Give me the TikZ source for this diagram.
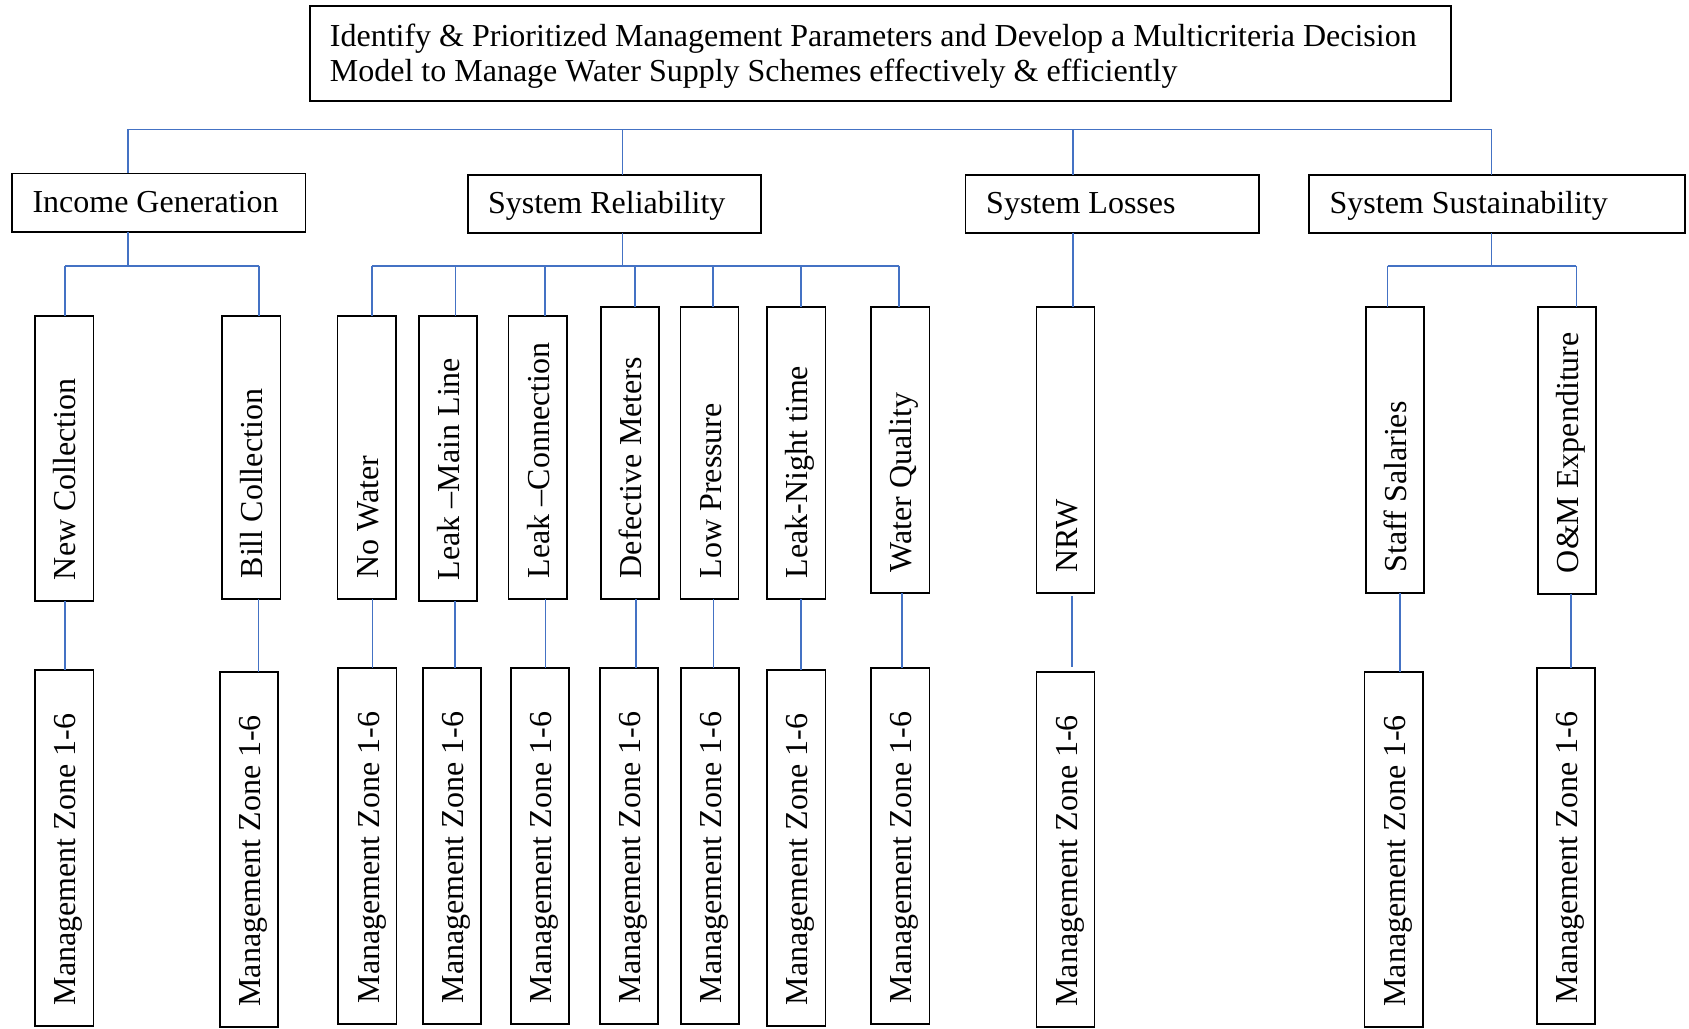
\documentclass[tikz,border=0pt]{standalone}
\usepackage{fontspec}
\setmainfont{Liberation Serif}
\definecolor{conncol}{RGB}{68,114,196}
\begin{document}
\begin{tikzpicture}[x=1pt,y=-1pt,
  box/.style={draw=black,line width=1.7pt,inner sep=0pt,outer sep=0pt,fill=white},
  hbx/.style={box,minimum height=58.3pt},
  vbx/.style={box,minimum width=58.2pt},
  htext/.style={anchor=base west,inner sep=0pt,font=\fontsize{32}{35}\selectfont},
  vtext/.style={htext,rotate=90},
  conn/.style={draw=conncol,line width=1.6pt}]
\useasboundingbox[fill=white] (0,0) rectangle (1689,1028);

% ---- top box
\node[box,minimum width=1141pt,minimum height=95pt] (top) at (880.5,53.5) {};
\node[htext] (top-t1) at ([xshift=19.7pt,yshift=-40.7pt]top.north west) {Identify \& Prioritized Management Parameters and Develop a Multicriteria Decision};
\node[htext] (top-t2) at ([xshift=19.7pt,yshift=-75.7pt]top.north west) {Model to Manage Water Supply Schemes effectively \& efficiently};

% ---- second level
\node[hbx,minimum width=293.6pt] (ig) at (158.7,202.5) {};
\node[hbx,minimum width=293.1pt] (sr) at (614.25,203.85) {};
\node[hbx,minimum width=293.3pt] (sl) at (1112.25,203.85) {};
\node[hbx,minimum width=376pt]   (ss) at (1497,203.85) {};
\node[htext] (ig-t) at ([xshift=20.4pt,yshift=19.2pt]ig.south west) {Income Generation};
\node[htext] (sr-t) at ([xshift=20.2pt,yshift=19.2pt]sr.south west) {System Reliability};
\node[htext] (sl-t) at ([xshift=20.4pt,yshift=19.2pt]sl.south west) {System Losses};
\node[htext] (ss-t) at ([xshift=20.4pt,yshift=19.2pt]ss.south west) {System Sustainability};

% ---- third level (parameters)
\node[vbx,minimum height=285pt]   (nc)  at (64.3,458.5) {};
\node[vbx,minimum height=283.3pt] (bc)  at (251.25,457.65) {};
\node[vbx,minimum height=283.3pt] (nw)  at (366.6,457.65) {};
\node[vbx,minimum height=285pt]   (lml) at (447.9,458.5) {};
\node[vbx,minimum height=283.3pt] (lc)  at (537.7,457.65) {};
\node[vbx,minimum height=292pt]   (dm)  at (629.8,453.3) {};
\node[vbx,minimum height=292pt]   (lp)  at (709.5,453.3) {};
\node[vbx,minimum height=292pt]   (lnt) at (796.25,453.3) {};
\node[vbx,minimum height=286pt]   (wq)  at (900.35,450.3) {};
\node[vbx,minimum height=286pt]   (nrw) at (1065.5,450.3) {};
\node[vbx,minimum height=286pt]   (st)  at (1394.8,450.3) {};
\node[vbx,minimum height=286.7pt] (om)  at (1567,450.65) {};

\foreach \n/\t in {nc/New Collection, bc/Bill Collection, nw/No Water,
  lml/Leak –Main Line, lc/Leak –Connection, dm/Defective Meters,
  lp/Low Pressure, lnt/Leak-Night time, wq/Water Quality, nrw/NRW,
  st/Staff Salaries, om/O\&M Expenditure}
  \node[vtext] (\n-t) at ([xshift=-17.5pt,yshift=20.8pt]\n.south east) {\t};

% ---- fourth level (management zones)
\node[vbx,minimum height=356pt]   (nc-z)  at (64.3,848) {};
\node[vbx,minimum height=355.3pt] (bc-z)  at (249.1,849.65) {};
\node[vbx,minimum height=355.7pt] (nw-z)  at (367.4,846.15) {};
\node[vbx,minimum height=355.7pt] (lml-z) at (451.8,846.15) {};
\node[vbx,minimum height=355.7pt] (lc-z)  at (540,846.15) {};
\node[vbx,minimum height=355.7pt] (dm-z)  at (629.1,846.15) {};
\node[vbx,minimum height=355.7pt] (lp-z)  at (710.15,846.15) {};
\node[vbx,minimum height=356pt]   (lnt-z) at (796.25,848) {};
\node[vbx,minimum height=355.7pt] (wq-z)  at (900.35,846.15) {};
\node[vbx,minimum height=355.3pt] (nrw-z) at (1065.5,849.65) {};
\node[vbx,minimum height=355.3pt] (st-z)  at (1393.7,849.65) {};
\node[vbx,minimum height=355.7pt] (om-z)  at (1566,846.15) {};

\foreach \n in {nc,bc,nw,lml,lc,dm,lp,lnt,wq,nrw,st,om}
  \node[vtext] (\n-zt) at ([xshift=-17.5pt,yshift=20.5pt]\n-z.south east) {Management Zone 1-6};

% ---- connectors: top bus
\coordinate (j-ig) at (127.7,129.3);
\coordinate (j-sr) at (622.3,129.3);
\coordinate (j-sl) at (1072.7,129.3);
\coordinate (j-ss) at (1491.4,129.3);
\draw[conn] (j-ig) -- (j-ss);
\foreach \n in {ig,sr,sl,ss}
  \draw[conn] (j-\n) -- (j-\n |- \n.north);

% ---- income generation branch
\coordinate (k-ig) at (127.7,265.7);
\coordinate (k-nc) at (65.2,265.7);
\coordinate (k-bc) at (259.0,265.7);
\draw[conn] (k-ig |- ig.south) -- (k-ig);
\draw[conn] (k-nc) -- (k-bc);
\foreach \n in {nc,bc}
  \draw[conn] (k-\n) -- (k-\n |- \n.north);

% ---- system reliability branch
\coordinate (k-sr)  at (622.3,265.7);
\coordinate (k-nw)  at (371.8,265.7);
\coordinate (k-lml) at (455.3,265.7);
\coordinate (k-lc)  at (544.7,265.7);
\coordinate (k-dm)  at (634.7,265.7);
\coordinate (k-lp)  at (712.8,265.7);
\coordinate (k-lnt) at (801.2,265.7);
\coordinate (k-wq)  at (898.8,265.7);
\draw[conn] (k-sr |- sr.south) -- (k-sr);
\draw[conn] (k-nw) -- (k-wq);
\foreach \n in {nw,lml,lc,dm,lp,lnt,wq}
  \draw[conn] (k-\n) -- (k-\n |- \n.north);

% ---- system losses branch
\coordinate (k-sl) at (1072.7,265.7);
\draw[conn] (k-sl |- sl.south) -- (k-sl |- nrw.north);

% ---- system sustainability branch
\coordinate (k-ss) at (1491.4,265.7);
\coordinate (k-st) at (1387.5,265.7);
\coordinate (k-om) at (1576.4,265.7);
\draw[conn] (k-ss |- ss.south) -- (k-ss);
\draw[conn] (k-st) -- (k-om);
\foreach \n in {st,om}
  \draw[conn] (k-\n) -- (k-\n |- \n.north);

% ---- parameter to management zone
\coordinate (z-nc)  at (65.1,640);
\coordinate (z-bc)  at (258.3,640);
\coordinate (z-nw)  at (372.4,640);
\coordinate (z-lml) at (455.0,640);
\coordinate (z-lc)  at (545.3,640);
\coordinate (z-dm)  at (636.0,640);
\coordinate (z-lp)  at (713.6,640);
\coordinate (z-lnt) at (801.1,640);
\coordinate (z-wq)  at (901.8,640);
\coordinate (z-st)  at (1399.8,640);
\coordinate (z-om)  at (1571.2,640);
\foreach \n in {nc,bc,nw,lml,lc,dm,lp,lnt,wq,st,om}
  \draw[conn] (z-\n |- \n.south) -- (z-\n |- \n-z.north);
\coordinate (z-nrw) at (1072.1,640);
\draw[conn,shorten <=3pt,shorten >=5pt] (z-nrw |- nrw.south) -- (z-nrw |- nrw-z.north);
\end{tikzpicture}
\end{document}
